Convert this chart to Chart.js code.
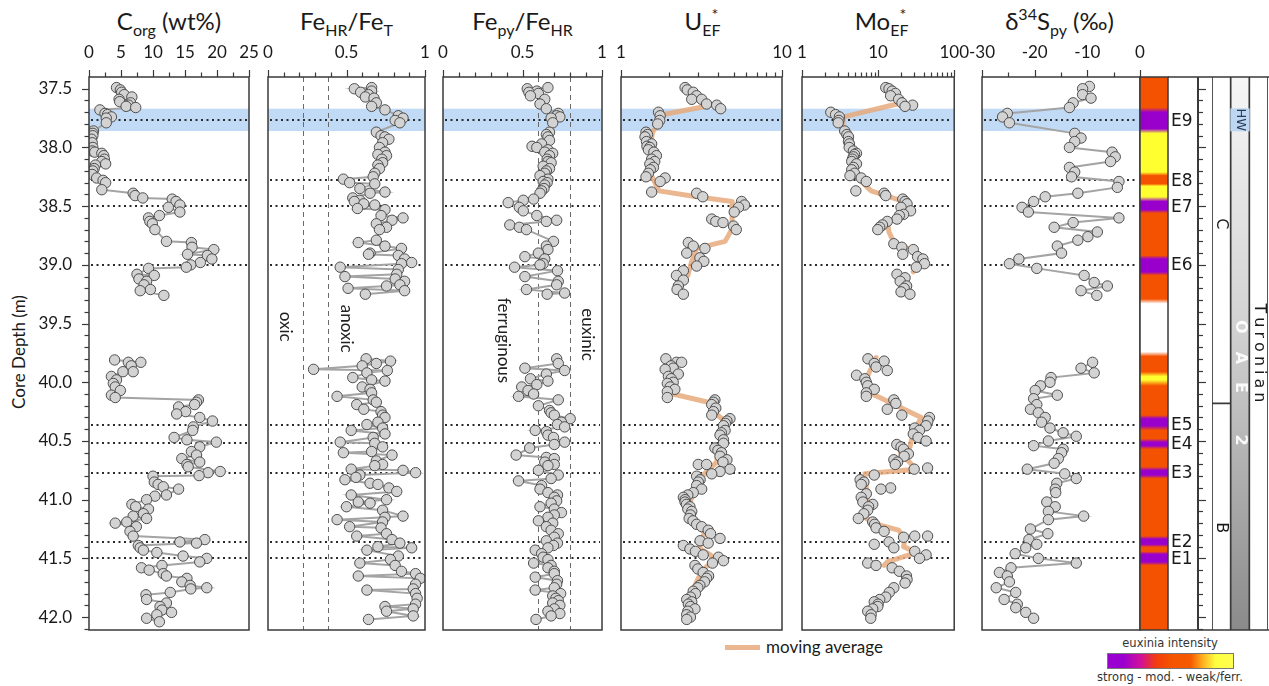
<!DOCTYPE html>
<html>
<head>
<meta charset="utf-8">
<script src="https://cdn.jsdelivr.net/npm/chart.js@4.4.1/dist/chart.umd.min.js"></script>
<style>
  body { margin: 0; background: #fff; }
  #wrap { position: relative; width: 1269px; height: 686px; overflow: hidden; background: #fff;
          font-family: Lato, "Open Sans", sans-serif; color: #1a1a1a; }
  #wrap canvas { position: absolute; top: 0; }
  .ttl { position: absolute; top: 6px; font-size: 24px; text-align: center; white-space: nowrap; line-height: 30px; }
  .ttl sub { font-size: 16px; vertical-align: -6px; line-height: 0; }
  .ttl sup { font-size: 16px; vertical-align: 10px; line-height: 0; }
  .ttl sup.st { margin-left: -9px; }
  .ylab { position: absolute; left: 18px; top: 352px; transform: translate(-50%, -50%) rotate(-90deg);
          font-size: 17px; white-space: nowrap; }
  .leg { position: absolute; white-space: nowrap; }
  .sleg { position: absolute; font-family: "DejaVu Sans", Verdana, sans-serif; font-size: 11.5px; color: #333;
          white-space: nowrap; transform: translateX(-50%); }
</style>
</head>
<body>
<div id="wrap">
  <div class="ttl" style="left:89px;width:160px">C<sub>org</sub> (wt%)</div>
  <div class="ttl" style="left:268px;width:157px">Fe<sub>HR</sub>/Fe<sub>T</sub></div>
  <div class="ttl" style="left:443px;width:159px">Fe<sub>py</sub>/Fe<sub>HR</sub></div>
  <div class="ttl" style="left:621px;width:161px">U<sub>EF</sub><sup class="st">*</sup></div>
  <div class="ttl" style="left:802px;width:157px">Mo<sub>EF</sub><sup class="st">*</sup></div>
  <div class="ttl" style="left:979px;width:161px">δ<sup>34</sup>S<sub>py</sub> (‰)</div>
  <div class="ylab">Core Depth (m)</div>
  <div class="leg" style="left:725px;top:645px;width:35px;height:5px;background:rgba(231,170,125,0.85)"></div>
  <div class="leg" style="left:766px;top:636px;font-size:17px;line-height:22px">moving average</div>
  <div class="sleg" style="left:1170px;top:636px">euxinia intensity</div>
  <div class="leg" style="left:1107px;top:653px;width:125px;height:14px;border:1px solid #777;
       background:linear-gradient(to right,#9a00d0 0%,#9a00d0 12%,#d0109a 26%,#f23a10 38%,#f55200 50%,#f55a00 66%,#ffb020 76%,#ffff40 86%,#ffff50 100%)"></div>
  <div class="sleg" style="left:1170px;top:670px">strong - mod. - weak/ferr.</div>
</div>
<script>
// ---------------- data ----------------
const depthTicks = [37.5, 38.0, 38.5, 39.0, 39.5, 40.0, 40.5, 41.0, 41.5, 42.0];
const corgTicks = [0, 5, 10, 15, 20, 25];
const fehrTicks = [0, 0.5, 1];
const fepyTicks = [0, 0.5, 1];
const uTicks = [1, 10];
const moTicks = [1, 10, 100];
const s34Ticks = [-30, -20, -10, 0];

const eventNames = ['E1', 'E2', 'E3', 'E4', 'E5', 'E6', 'E7', 'E8', 'E9'];
const eventDepths = [41.50, 41.36, 40.77, 40.52, 40.36, 39.00, 38.50, 38.28, 37.77];
const hwBand = [37.67, 37.86];
const fehrThresholds = [0.22, 0.38];
const fepyThresholds = [0.6, 0.8];

const corgDepth = [
  37.49,37.51,37.53,37.55,37.57,37.59,37.61,37.62,37.64,37.65,
  37.66,37.68,37.71,37.72,37.74,37.75,37.79,37.86,37.88,37.90,
  37.93,37.96,38.00,38.03,38.04,38.05,38.07,38.10,38.12,38.14,
  38.15,38.18,38.20,38.23,38.26,38.28,38.30,38.36,38.39,38.41,
  38.43,38.44,38.46,38.49,38.51,38.55,38.58,38.60,38.63,38.65,
  38.70,38.81,38.80,38.85,38.87,38.91,38.92,38.95,38.98,39.00,
  39.02,39.03,39.08,39.09,39.12,39.14,39.17,39.21,39.22,39.26,
  39.50,
  39.81,39.83,39.83,39.86,39.91,39.91,39.95,39.98,40.01,40.04,
  40.07,40.11,40.13,40.15,40.17,40.19,40.21,40.25,40.27,40.30,
  40.33,40.38,40.41,40.47,40.49,40.51,40.55,40.59,40.62,40.65,
  40.68,40.70,40.72,40.76,40.77,40.795,40.80,40.85,40.87,40.89,
  40.91,40.96,40.97,41.00,41.04,41.06,41.08,41.12,41.14,41.16,
  41.19,41.20,41.23,41.27,41.31,41.34,41.36,41.37,41.39,41.41,
  41.43,41.45,41.48,41.50,41.53,41.56,41.58,41.60,41.63,41.65,
  41.67,41.70,41.73,41.75,41.76,41.79,41.81,41.85,41.88,41.91,
  41.94,41.96,41.98,42.01,42.04
];
const corgValue = [
  4.3,4.9,5.1,5.5,6.7,4.7,4.8,6.5,6.2,5.8,
  7.3,1.7,2.5,2.9,3.5,2.7,2.7,0.7,0.6,0.6,
  0.4,0.5,0.6,0.5,0.9,2.0,2.3,2.4,2.0,2.6,
  1.0,0.8,0.6,0.5,1.2,2.2,2.6,2.0,6.9,7.2,
  8.4,13.0,13.6,14.2,12.4,14.2,11.0,9.3,9.5,9.9,
  10.3,16.0,12.1,16.1,19.5,15.4,18.5,19.2,17.4,15.9,
  15.2,9.3,7.5,10.2,7.8,9.0,8.6,9.6,8.0,11.7,
  null,
  4.0,8.1,6.15,6.6,6.9,5.3,3.5,4.3,3.8,4.1,
  4.9,3.5,4.1,17.1,16.8,16.5,14.0,15.1,13.7,17.3,
  19.3,16.3,16.2,13.3,15.3,19.9,17.3,16.0,16.8,14.5,
  17.3,15.3,15.5,20.5,18.6,17.2,10.0,10.2,10.8,11.6,
  14.0,12.1,10.3,9.0,6.7,7.3,9.3,8.5,6.9,9.0,
  5.9,4.1,7.4,6.4,6.9,18.1,14.2,16.8,7.7,8.0,
  8.5,10.6,14.7,18.4,17.3,11.4,8.2,9.4,11.6,12.1,
  15.3,14.5,15.8,18.4,15.9,12.7,8.9,9.0,12.1,11.1,
  11.4,12.9,10.6,9.0,11.0
];

const fehrDepth = [
  37.49,37.50,37.52,37.53,37.55,37.57,37.58,37.62,37.65,37.68,
  37.73,37.75,37.77,37.79,37.87,37.90,37.91,37.93,37.96,38.00,
  38.04,38.06,38.07,38.10,38.13,38.15,38.18,38.22,38.25,38.27,
  38.30,38.31,38.35,38.38,38.39,38.43,38.45,38.46,38.48,38.49,
  38.52,38.53,38.58,38.60,38.62,38.65,38.68,38.70,38.79,38.81,
  38.84,38.86,38.90,38.91,38.92,38.95,38.98,38.99,39.02,39.04,
  39.08,39.10,39.12,39.14,39.17,39.18,39.20,39.22,39.25,
  39.50,
  39.80,39.82,39.84,39.86,39.89,39.90,39.92,39.96,39.98,39.99,
  40.04,40.06,40.09,40.12,40.15,40.17,40.19,40.23,40.25,40.28,
  40.30,40.34,40.36,40.39,40.41,40.44,40.47,40.51,40.52,40.55,
  40.59,40.60,40.62,40.67,40.70,40.71,40.74,40.75,40.77,40.79,
  40.81,40.83,40.86,40.87,40.90,40.93,40.96,41.00,41.02,41.03,
  41.06,41.09,41.14,41.15,41.17,41.19,41.23,41.24,41.29,41.31,
  41.34,41.37,41.40,41.41,41.43,41.48,41.51,41.54,41.56,41.61,
  41.63,41.65,41.67,41.72,41.76,41.77,41.80,41.84,41.89,41.91,
  41.93,41.95,41.99,42.02
];
const fehrValue = [
  0.66,0.55,0.66,0.59,0.64,0.62,0.675,0.69,0.66,0.745,
  0.83,0.86,0.81,0.84,0.69,0.72,0.745,0.77,0.73,0.71,
  0.745,0.70,0.755,0.725,0.73,0.70,0.71,0.68,0.67,0.48,
  0.52,0.68,0.585,0.745,0.65,0.54,0.585,0.55,0.61,0.68,
  0.57,0.745,0.72,0.86,0.79,0.69,0.755,0.71,0.69,0.575,
  0.745,0.85,0.65,0.64,0.83,0.87,0.915,0.85,0.46,0.83,
  0.82,0.49,0.81,0.87,0.84,0.755,0.51,0.87,0.62,
  null,
  0.625,0.78,0.69,0.60,0.29,0.76,0.63,0.54,0.66,0.745,
  0.60,0.65,0.66,0.44,0.67,0.69,0.565,0.61,0.72,0.73,
  0.745,0.70,0.63,0.73,0.53,0.745,0.67,0.46,0.68,0.73,
  0.66,0.48,0.79,0.69,0.73,0.68,0.53,0.86,0.94,0.585,
  0.56,0.49,0.65,0.70,0.77,0.82,0.53,0.755,0.575,0.65,
  0.50,0.73,0.86,0.745,0.44,0.73,0.52,0.72,0.755,0.565,
  0.79,0.84,0.70,0.915,0.63,0.83,0.78,0.585,0.81,0.85,
  0.94,0.575,0.97,0.94,0.925,0.63,0.94,0.95,0.94,0.745,
  0.925,0.755,0.925,0.64
];

const fepyDepth = [
  37.49,37.50,37.52,37.53,37.54,37.56,37.59,37.63,37.67,37.71,
  37.73,37.74,37.75,37.79,37.87,37.91,37.94,37.99,38.00,38.04,
  38.07,38.10,38.13,38.16,38.20,38.24,38.29,38.30,38.35,38.39,
  38.44,38.45,38.47,38.51,38.54,38.58,38.62,38.63,38.66,38.68,
  38.70,38.80,38.84,38.87,38.90,38.93,38.95,38.99,39.00,39.02,
  39.05,39.10,39.14,39.17,39.21,39.24,39.25,
  37.89,37.97,38.02,38.05,38.12,38.18,38.22,38.27,38.32,38.37,
  39.50,
  39.80,39.84,39.88,39.90,39.93,39.97,39.99,40.02,40.04,40.07,
  40.10,40.12,40.15,40.20,40.24,40.28,40.31,40.34,40.38,40.41,
  40.42,40.47,40.51,40.56,40.62,40.64,40.65,40.68,40.71,40.75,
  40.79,40.84,40.88,40.91,40.94,40.98,41.01,41.06,41.11,41.15,
  41.18,41.23,41.29,41.35,41.39,41.43,41.49,41.54,41.58,41.63,
  41.66,41.72,41.77,41.82,41.86,41.90,41.95,41.97,42.02,
  40.26,40.36,40.45,40.53,40.70,40.82,40.96,41.03,41.08,41.13,
  41.20,41.26,41.32,41.37,41.41,41.46,41.51,41.56,41.61,41.69,
  41.75,41.80,41.84,41.88,41.93,41.99
];
const fepyValue = [
  0.66,0.53,0.59,0.54,0.60,0.55,0.64,0.61,0.65,0.725,
  0.715,0.735,0.68,0.69,0.67,0.66,0.67,0.56,0.59,0.64,
  0.67,0.655,0.68,0.63,0.65,0.61,0.63,0.655,0.635,0.61,
  0.57,0.505,0.41,0.48,0.505,0.59,0.715,0.65,0.42,0.48,
  0.525,0.695,0.65,0.66,0.60,0.515,0.64,0.63,0.61,0.45,
  0.72,0.515,0.725,0.715,0.525,0.765,0.655,
  0.65,0.62,0.66,0.69,0.66,0.67,0.64,0.66,0.64,0.62,
  null,
  0.715,0.725,0.515,0.765,0.65,0.55,0.66,0.59,0.495,0.535,
  0.57,0.475,0.725,0.60,0.67,0.70,0.80,0.745,0.765,0.58,
  0.65,0.695,0.765,0.545,0.46,0.65,0.70,0.64,0.66,0.60,
  0.725,0.475,0.62,0.61,0.66,0.70,0.715,0.61,0.745,0.66,
  0.60,0.65,0.725,0.65,0.695,0.58,0.63,0.57,0.66,0.70,
  0.58,0.715,0.58,0.69,0.725,0.735,0.66,0.735,0.585,
  0.68,0.72,0.66,0.70,0.70,0.68,0.72,0.68,0.70,0.70,
  0.69,0.68,0.70,0.72,0.66,0.62,0.66,0.68,0.70,0.72,
  0.70,0.74,0.71,0.69,0.70,0.68
];

const uDepth = [
  37.49,37.51,37.53,37.56,37.59,37.59,37.63,37.64,37.67,37.70,
  37.73,37.77,37.80,37.87,37.91,37.95,37.97,38.00,38.04,38.07,
  38.10,38.14,38.17,38.22,38.25,38.26,38.29,38.38,38.39,38.42,
  38.46,38.49,38.51,38.55,38.61,38.63,38.64,38.67,38.70,38.81,
  38.84,38.86,38.90,38.94,38.97,39.01,39.05,39.09,39.13,39.18,
  39.21,39.25,37.89,37.99,38.02,38.12,38.19,
  39.80,39.83,39.83,39.89,39.88,39.93,39.95,40.00,40.01,40.06,
  40.08,40.13,40.15,40.19,40.22,40.28,40.31,40.33,40.37,40.41,
  40.45,40.49,40.52,40.56,40.60,40.63,40.66,40.70,40.70,40.74,
  40.76,40.78,40.80,40.85,40.91,40.94,40.98,41.02,41.06,41.10,
  41.16,41.21,41.23,41.26,41.33,41.37,41.39,41.42,41.47,41.49,
  41.52,41.56,41.62,41.67,41.73,41.78,41.85,41.89,41.93,41.98,
  42.02,
  39.86,39.97,40.04,40.17,40.25,40.35,40.43,40.58,40.68,40.83,
  40.88,40.96,41.00,41.04,41.08,41.13,41.18,41.29,41.35,41.44,
  41.54,41.59,41.65,41.70,41.75,41.80,41.83,41.87,41.91,41.95,
  42.00
];
const uValue = [
  2.50,2.58,2.81,2.95,2.75,3.17,3.40,3.93,4.16,1.71,
  1.75,1.74,1.69,1.43,1.41,1.44,1.55,1.51,1.60,1.66,
  1.55,1.51,1.59,1.48,1.43,1.88,1.75,1.55,2.95,3.22,
  5.61,5.85,5.37,5.05,3.66,3.88,4.30,5.00,5.20,2.62,
  2.81,3.32,2.56,3.09,3.27,2.95,2.44,2.21,2.44,2.27,
  2.23,2.44,1.46,1.45,1.48,1.62,1.52,
  1.90,2.21,2.38,1.88,2.11,2.27,1.97,2.11,1.94,2.16,
  1.94,1.94,3.83,3.66,3.88,3.66,4.75,4.55,4.33,4.43,
  4.12,4.33,4.33,3.83,4.21,4.12,4.55,3.02,3.40,4.75,
  4.12,3.66,2.95,3.02,3.17,2.81,2.44,2.50,2.68,2.75,
  2.65,2.95,3.17,3.48,4.12,3.48,2.44,2.68,3.24,4.03,
  4.33,2.88,3.24,3.40,3.09,2.81,2.56,2.62,2.88,2.56,
  2.56,
  2.05,2.05,2.02,3.75,3.75,4.45,4.20,4.00,4.30,3.10,
  2.95,2.60,2.50,2.55,2.60,2.70,2.80,3.60,3.10,2.90,
  3.70,3.00,3.50,3.30,3.00,2.90,2.70,2.75,2.70,2.60,
  2.70
];
const uMaDepth = [37.64,37.72,37.79,37.87,38.00,38.20,38.28,38.37,38.42,38.46,38.60,38.70,38.80,38.86,38.97,39.09,
  39.50,
  39.83,40.10,40.17,40.27,40.33,40.45,40.60,40.68,40.78,40.85,40.95,41.05,41.16,41.28,41.38,41.42,41.47,41.53,41.60,41.72,41.82];
const uMaValue = [3.66,1.83,1.72,1.57,1.52,1.50,1.60,1.72,2.95,4.90,4.90,4.87,4.43,2.95,2.75,2.60,
  null,
  2.10,2.10,3.48,3.90,4.40,4.30,4.00,3.93,3.30,3.00,2.80,2.65,2.70,3.30,3.10,3.10,3.60,3.70,3.20,2.90,2.65];

const moDepth = [
  37.49,37.50,37.52,37.54,37.56,37.59,37.62,37.65,37.64,37.70,
  37.72,37.74,37.77,37.79,37.86,37.89,37.91,37.95,38.00,38.03,
  38.05,38.08,38.12,38.14,38.17,38.24,38.26,38.29,38.37,38.39,
  38.41,38.44,38.46,38.51,38.54,38.57,38.61,38.63,38.66,38.70,
  38.82,38.85,38.87,38.91,38.95,38.99,39.02,39.08,39.11,39.14,
  39.18,39.23,39.25,
  37.97,38.06,38.10,38.19,38.22,38.48,38.68,38.93,39.20,38.58,
  39.50,
  39.80,39.82,39.84,39.87,39.90,39.94,39.97,40.00,40.03,40.06,
  40.09,40.12,40.15,40.18,40.23,40.28,40.30,40.33,40.37,40.39,
  40.44,40.47,40.50,40.53,40.57,40.61,40.66,40.70,40.74,40.73,
  40.79,40.83,40.87,40.91,40.90,40.98,41.02,41.04,41.09,41.16,
  41.19,41.24,41.32,41.31,41.31,41.36,41.38,41.41,41.44,41.47,
  41.50,41.54,41.56,41.58,41.65,41.71,41.75,41.83,41.87,41.91,
  41.95,41.98,
  40.41,40.55,40.63,40.68,40.85,40.95,41.06,41.12,41.21,41.27,
  41.61,41.68,41.79,41.85,41.89,41.93,42.01
];
const moValue = [
  12.6,13.9,15.3,16.9,14.6,18.6,20.6,22.6,28.4,2.39,
  2.76,3.10,3.05,2.99,3.64,3.89,4.08,4.08,4.17,4.73,
  5.20,4.73,4.50,5.20,4.73,4.27,6.00,7.00,5.10,12.0,
  12.6,21.1,22.6,20.0,26.7,21.6,17.7,13.2,11.4,9.9,
  16.1,20.5,29.0,21.1,38.8,40.7,31.8,17.7,22.6,19.5,
  23.7,20.0,26.2,
  4.2,4.9,4.6,4.5,4.9,24.0,10.5,33.0,22.0,19.0,
  null,
  7.35,12.0,8.9,9.4,13.2,5.2,6.7,7.0,7.3,8.9,
  7.0,7.0,16.1,17.1,13.2,20.5,47.3,45.0,42.7,30.3,
  29.0,33.5,42.7,17.6,21.6,25.0,16.1,16.8,29.8,44.7,
  8.9,5.8,6.0,10.9,14.6,6.0,6.3,8.5,7.3,5.5,
  8.5,9.4,21.6,44.7,30.3,13.9,8.9,16.1,30.3,42.7,
  35.0,7.3,9.4,15.3,23.6,22.6,16.1,12.6,8.9,9.9,
  7.3,8.1,
  35.0,20.0,22.0,18.0,6.5,7.0,7.5,6.5,9.0,12.0,
  19.0,24.0,14.0,10.5,10.0,8.5,8.0
];
const moMaDepth = [37.63,37.74,37.86,38.03,38.20,38.29,38.37,38.45,38.58,38.63,38.72,38.81,38.88,38.99,39.06,
  39.50,
  39.79,39.97,40.08,40.30,40.43,40.55,40.60,40.74,40.78,40.90,41.06,41.16,41.22,41.26,41.33,41.40,41.45,41.53,41.56];
const moMaValue = [17.7,3.53,3.36,4.5,4.97,6.0,8.1,19.6,21.6,13.2,13.9,16.1,28.8,35.1,28.8,
  null,
  9.4,7.0,7.3,36.9,29.0,26.2,19.6,31.8,6.7,7.0,7.3,7.0,10.9,18.6,22.6,21.6,31.8,13.2,12.0];

const s34Depth = [
  37.48,37.50,37.55,37.58,37.62,37.66,37.71,37.74,37.79,37.88,
  37.92,37.95,38.00,38.04,38.08,38.12,38.17,38.21,38.25,38.29,
  38.34,38.39,38.42,38.46,38.51,38.55,38.60,38.64,38.68,38.72,
  38.76,38.79,38.84,38.90,38.95,38.99,39.03,39.09,39.15,39.18,
  39.22,39.26,
  39.50,
  39.83,39.88,39.92,39.96,40.00,40.03,40.07,40.11,40.14,40.19,
  40.23,40.26,40.30,40.34,40.39,40.43,40.46,40.50,40.54,40.57,
  40.60,40.65,40.69,40.74,40.78,40.82,40.86,40.91,40.94,41.02,
  41.06,41.10,41.14,41.17,41.25,41.29,41.34,41.38,41.41,41.46,
  41.50,41.54,41.58,41.62,41.65,41.70,41.75,41.79,41.85,41.89,
  41.92,41.96,42.01
];
const s34Value = [
  -9.6,-10.9,-10.9,-9.3,-12.7,-13.4,-25.2,-26.1,-24.8,-12.4,
  -11.2,-12.4,-13.4,-5.3,-4.7,-5.6,-13.4,-12.4,-13.0,-4.0,
  -4.3,-11.8,-18.0,-20.2,-22.4,-21.2,-4.0,-12.7,-16.3,-8.1,
  -9.9,-11.8,-15.7,-14.9,-23.0,-24.8,-19.6,-10.6,-8.7,-6.2,
  -11.2,-8.2,
  null,
  -9.0,-11.2,-8.7,-16.9,-17.1,-18.9,-19.9,-15.7,-20.2,-19.6,
  -20.8,-19.3,-18.0,-18.7,-17.1,-14.6,-12.1,-17.4,-20.2,-14.6,
  -14.9,-15.5,-16.3,-21.4,-14.3,-12.1,-15.8,-16.1,-16.0,-17.7,
  -16.1,-17.4,-10.7,-17.4,-20.8,-17.5,-21.1,-19.6,-21.7,-23.7,
  -19.3,-12.1,-24.5,-26.7,-25.2,-24.8,-27.3,-23.6,-25.8,-23.3,
  -23.6,-21.7,-20.2
];

// euxinia intensity along the core: 0 none, 1 strong, 2 moderate, 3 weak/ferruginous
const euxDepth = [37.40,37.66,37.70,37.84,37.88,38.21,38.24,38.31,38.33,38.42,38.46,38.53,38.56,38.92,38.95,39.06,39.09,
  39.29,39.33,39.74,39.78,39.91,39.95,39.98,40.03,40.28,40.31,40.37,40.41,40.48,40.51,40.54,40.57,40.72,40.75,40.79,
  40.82,41.31,41.335,41.38,41.405,41.44,41.465,41.53,41.56,42.11];
const euxLevel = [2,2,1,1,3,3,2,2,3,3,1,1,2,2,1,1,2,
  2,0,0,2,2,3,3,2,2,1,1,2,2,1,1,2,2,1,1,
  2,2,1,1,2,2,1,1,2,2];

const zoneNames = ['C', 'B'];
const zoneTops = [37.40, 40.18];
const zoneBases = [40.18, 42.11];
const zoneLabelDepths = [38.65, 41.24];
const oaeRange = [37.40, 42.11];

// ---------------- layout / style ----------------
const DEPTH_MIN = 37.4, DEPTH_MAX = 42.11;
const TOP = 77, BOTTOM = 630, H = 686;
const FONT = 'Lato, "Open Sans", sans-serif';
const SFONT = '"DejaVu Sans", Verdana, sans-serif';
const TXT = '#1a1a1a';
const EUX_COLORS = ['#ffffff', '#9a00cc', '#f45200', '#ffff30'];
Chart.defaults.font.family = FONT;

const wrap = document.getElementById('wrap');
function addCanvas(left, width) {
  const c = document.createElement('canvas');
  c.width = width; c.height = H;
  c.style.left = left + 'px'; c.style.width = width + 'px'; c.style.height = H + 'px';
  wrap.appendChild(c);
  return c;
}
function pts(depths, values) {
  return depths.map((d, i) => ({ x: values[i], y: d })).sort((a, b) => a.y - b.y);
}
function rotText(ctx, text, px, py, font, color, spacing, align) {
  ctx.save();
  ctx.translate(px, py);
  ctx.rotate(Math.PI / 2);
  ctx.font = font; ctx.fillStyle = color; ctx.textBaseline = 'middle';
  if (!spacing) {
    ctx.textAlign = align || 'left';
    ctx.fillText(text, 0, 0);
  } else {
    ctx.textAlign = 'left';
    let cx = 0;
    for (const ch of text) { ctx.fillText(ch, cx, 0); cx += ctx.measureText(ch).width + spacing; }
  }
  ctx.restore();
}

const decoPlugin = {
  id: 'deco',
  beforeDatasetsDraw(chart, args, o) {
    const { ctx, chartArea: a } = chart; const x = chart.scales.x, y = chart.scales.y;
    ctx.save();
    if (o.band) {
      const y0 = y.getPixelForValue(o.band[0]), y1 = y.getPixelForValue(o.band[1]);
      ctx.fillStyle = 'rgba(172,206,242,0.75)';
      ctx.fillRect(a.left, y0, a.right - a.left, y1 - y0);
    }
    ctx.strokeStyle = '#6a6a6a'; ctx.lineWidth = 1; ctx.setLineDash([5, 4]);
    (o.vlines || []).forEach(v => {
      const px = Math.round(x.getPixelForValue(v)) + 0.5;
      ctx.beginPath(); ctx.moveTo(px, a.top); ctx.lineTo(px, a.bottom); ctx.stroke();
    });
    ctx.strokeStyle = '#2a2a2a'; ctx.lineWidth = 2; ctx.setLineDash([2, 3.5]);
    (o.events || []).forEach(d => {
      const py = Math.round(y.getPixelForValue(d));
      ctx.beginPath(); ctx.moveTo(a.left + 2, py); ctx.lineTo(a.right - 2, py); ctx.stroke();
    });
    ctx.restore();
  },
  afterDatasetsDraw(chart, args, o) {
    const { ctx, chartArea: a } = chart; const x = chart.scales.x, y = chart.scales.y;
    ctx.save();
    ctx.setLineDash([]);
    ctx.strokeStyle = '#3a3a3a'; ctx.lineWidth = 1.5;
    ctx.strokeRect(a.left, a.top, a.right - a.left, a.bottom - a.top);
    ctx.lineWidth = 1.2;
    const xt = (v, len) => {
      const px = Math.round(x.getPixelForValue(v)) + 0.5;
      ctx.beginPath(); ctx.moveTo(px, a.top); ctx.lineTo(px, a.top - len); ctx.stroke();
    };
    (o.xMajor || []).forEach(v => xt(v, 7));
    (o.xMinor || []).forEach(v => xt(v, 4.5));
    if (o.yTicks) {
      for (let k = 0; k <= 46; k++) {
        const d = 37.5 + k * 0.1; if (d > DEPTH_MAX) break;
        const py = Math.round(y.getPixelForValue(d)) + 0.5; const len = (k % 5 === 0) ? 7 : 4.5;
        ctx.beginPath(); ctx.moveTo(a.left, py); ctx.lineTo(a.left - len, py); ctx.stroke();
      }
    }
    (o.vtexts || []).forEach(t => rotText(ctx, t[0], x.getPixelForValue(t[1]), y.getPixelForValue(t[2]), '17px ' + FONT, '#222'));
    ctx.restore();
  }
};

function ptsDS(data, line) {
  return { data, showLine: line, borderColor: '#a4a4a4', borderWidth: 2, pointRadius: 5.2,
           pointBackgroundColor: '#d3d3d3', pointBorderColor: '#4e4e4e', pointBorderWidth: 1, spanGaps: false };
}
function maDS(data) {
  return { data, showLine: true, borderColor: 'rgba(231,170,125,0.85)', borderWidth: 5, pointRadius: 0,
           spanGaps: false, borderCapStyle: 'round', borderJoinStyle: 'round' };
}

function makePanel(l, r, xScale, tickVals, labelFn, datasets, deco, showY) {
  const padL = showY ? 0 : 24, padR = 24;
  const cl = showY ? 0 : l - padL;
  const cw = r + padR - cl;
  const cv = addCanvas(cl, cw);
  const xAxis = Object.assign({
    position: 'top',
    afterBuildTicks: s => { s.ticks = tickVals.map(v => ({ value: v })); },
    afterFit: s => { s.height = TOP; },
    grid: { display: false, drawTicks: false }, border: { display: false },
    ticks: { font: { family: FONT, size: 17 }, color: TXT, padding: 14, maxRotation: 0, autoSkip: false,
             callback: v => labelFn(v) }
  }, xScale);
  const yAxis = {
    type: 'linear', reverse: true, min: DEPTH_MIN, max: DEPTH_MAX, display: !!showY, position: 'left',
    afterBuildTicks: s => { s.ticks = depthTicks.map(v => ({ value: v })); },
    afterFit: s => { s.width = showY ? l : 0; },
    grid: { display: false, drawTicks: false }, border: { display: false },
    ticks: { font: { family: FONT, size: 17 }, color: TXT, padding: 17, autoSkip: false, callback: v => v.toFixed(1) }
  };
  return new Chart(cv, {
    type: 'scatter',
    data: { datasets },
    options: {
      responsive: false, animation: false, devicePixelRatio: 1, events: [],
      layout: { padding: { left: padL, right: padR, top: 0, bottom: H - BOTTOM } },
      scales: { x: xAxis, y: yAxis },
      plugins: { legend: { display: false }, tooltip: { enabled: false }, deco }
    },
    plugins: [decoPlugin]
  });
}

const linMinor = (a, b, step, majors) => { const out = []; for (let v = a; v <= b + 1e-9; v += step) { const r = Math.round(v * 1000) / 1000; if (!majors.some(m => Math.abs(m - r) < 1e-9)) out.push(r); } return out; };
const logMinor = (decades) => { const out = []; for (let d = 0; d < decades; d++) for (let k = 2; k <= 9; k++) out.push(k * Math.pow(10, d)); return out; };
const numLabel = v => String(v);

// Panel 1: Corg
makePanel(89, 249, { type: 'linear', min: 0, max: 25 }, corgTicks, numLabel,
  [ptsDS(pts(corgDepth, corgValue), true)],
  { band: hwBand, events: eventDepths, xMajor: corgTicks, xMinor: linMinor(0, 25, 2.5, corgTicks), yTicks: true }, true);
// Panel 2: FeHR/FeT
makePanel(268, 425, { type: 'linear', min: 0, max: 1 }, fehrTicks, numLabel,
  [ptsDS(pts(fehrDepth, fehrValue), true)],
  { band: hwBand, events: eventDepths, vlines: fehrThresholds, xMajor: fehrTicks, xMinor: linMinor(0, 1, 0.1, fehrTicks),
    vtexts: [['oxic', 0.11, 39.40], ['anoxic', 0.50, 39.34]] }, false);
// Panel 3: Fepy/FeHR
makePanel(443, 602, { type: 'linear', min: 0, max: 1 }, fepyTicks, numLabel,
  [ptsDS(pts(fepyDepth, fepyValue), true)],
  { band: hwBand, events: eventDepths, vlines: fepyThresholds, xMajor: fepyTicks, xMinor: linMinor(0, 1, 0.1, fepyTicks),
    vtexts: [['ferruginous', 0.38, 39.28], ['euxinic', 0.91, 39.37]] }, false);
// Panel 4: U EF
makePanel(621, 782, { type: 'logarithmic', min: 1, max: 10 }, uTicks, numLabel,
  [ptsDS(pts(uDepth, uValue), false), maDS(pts(uMaDepth, uMaValue))],
  { band: hwBand, events: eventDepths, xMajor: uTicks, xMinor: logMinor(1) }, false);
// Panel 5: Mo EF
makePanel(802, 959, { type: 'logarithmic', min: 1, max: 100 }, moTicks, numLabel,
  [ptsDS(pts(moDepth, moValue), false), maDS(pts(moMaDepth, moMaValue))],
  { band: hwBand, events: eventDepths, xMajor: moTicks, xMinor: logMinor(2) }, false);
// Panel 6: d34S
makePanel(979, 1140, { type: 'linear', min: -30, max: 0 }, s34Ticks, numLabel,
  [ptsDS(pts(s34Depth, s34Value), true)],
  { band: hwBand, events: eventDepths, xMajor: s34Ticks, xMinor: linMinor(-30, 0, 5, s34Ticks) }, false);

// ---------------- euxinia strip + event labels ----------------
function euxGradient(context) {
  const chart = context.chart; const a = chart.chartArea;
  if (!a) return EUX_COLORS[2];
  const y = chart.scales.y;
  const y0 = y.getPixelForValue(DEPTH_MIN), y1 = y.getPixelForValue(DEPTH_MAX);
  const g = chart.ctx.createLinearGradient(0, y0, 0, y1);
  euxDepth.forEach((d, i) => {
    const f = Math.min(1, Math.max(0, (y.getPixelForValue(d) - y0) / (y1 - y0)));
    g.addColorStop(f, EUX_COLORS[euxLevel[i]]);
  });
  return g;
}
const sidePlugin = {
  id: 'side',
  afterDatasetsDraw(chart) {
    const { ctx, chartArea: a } = chart; const y = chart.scales.y;
    const colR = a.right + 30, farR = 1268;
    ctx.save();
    ctx.strokeStyle = '#3a3a3a'; ctx.lineWidth = 1.5;
    ctx.strokeRect(a.left, a.top, a.right - a.left, a.bottom - a.top);
    ctx.beginPath();
    ctx.moveTo(a.right, a.top); ctx.lineTo(farR, a.top);
    ctx.moveTo(a.right, a.bottom); ctx.lineTo(farR, a.bottom);
    ctx.stroke();
    ctx.lineWidth = 2;
    ctx.beginPath(); ctx.moveTo(colR, a.top); ctx.lineTo(colR, a.bottom); ctx.stroke();
    ctx.lineWidth = 1.2;
    for (let k = 0; k <= 46; k++) {
      const d = 37.5 + k * 0.1; if (d > DEPTH_MAX) break;
      const py = Math.round(y.getPixelForValue(d)) + 0.5; const len = (k % 5 === 0) ? 8 : 5;
      ctx.beginPath(); ctx.moveTo(colR, py); ctx.lineTo(colR + len, py); ctx.stroke();
    }
    ctx.font = '17px ' + SFONT; ctx.fillStyle = TXT; ctx.textAlign = 'left'; ctx.textBaseline = 'middle';
    eventNames.forEach((n, i) => ctx.fillText(n, a.right + 3, y.getPixelForValue(eventDepths[i]) + 1));
    ctx.restore();
  }
};
new Chart(addCanvas(1130, 139), {
  type: 'bar',
  data: { labels: ['euxinia'], datasets: [{ data: [[DEPTH_MIN, DEPTH_MAX]], backgroundColor: euxGradient,
          borderWidth: 0, barPercentage: 1, categoryPercentage: 1 }] },
  options: {
    responsive: false, animation: false, devicePixelRatio: 1, events: [],
    layout: { padding: { left: 10, right: 101, top: TOP, bottom: H - BOTTOM } },
    scales: { x: { display: false }, y: { type: 'linear', reverse: true, min: DEPTH_MIN, max: DEPTH_MAX, display: false } },
    plugins: { legend: { display: false }, tooltip: { enabled: false } }
  },
  plugins: [sidePlugin]
});

// ---------------- zone / OAE / stage columns ----------------
function oaeGradient(context) {
  const chart = context.chart; const a = chart.chartArea;
  if (!a) return '#cccccc';
  const y = chart.scales.y;
  const g = chart.ctx.createLinearGradient(0, y.getPixelForValue(oaeRange[0]), 0, y.getPixelForValue(oaeRange[1]));
  g.addColorStop(0, '#f6f6f6'); g.addColorStop(0.45, '#d2d2d2'); g.addColorStop(1, '#8a8a8a');
  return g;
}
const zonePlugin = {
  id: 'zonetext',
  afterDatasetsDraw(chart) {
    const { ctx } = chart; const x = chart.scales.x, y = chart.scales.y;
    zoneNames.forEach((n, i) => rotText(ctx, n, x.getPixelForValue(0), y.getPixelForValue(zoneLabelDepths[i]),
      '16px ' + SFONT, TXT, 0, 'center'));
    rotText(ctx, 'HW', x.getPixelForValue(1), y.getPixelForValue((hwBand[0] + hwBand[1]) / 2), '13px ' + SFONT, '#2a3a55', 0, 'center');
    rotText(ctx, 'OAE 2', x.getPixelForValue(1), y.getPixelForValue(39.47), 'bold 16px ' + SFONT, 'rgba(255,255,255,0.9)', 18);
    rotText(ctx, 'Turonian', x.getPixelForValue(2), y.getPixelForValue(39.33), '16px ' + SFONT, TXT, 4);
  }
};
new Chart(addCanvas(1198, 71), {
  type: 'bar',
  data: {
    labels: ['zone', 'oae', 'stage'],
    datasets: [
      { data: [null, hwBand, null], backgroundColor: '#bdd7f3', borderWidth: 0 },
      { data: [[zoneTops[0], zoneBases[0]], null, null], backgroundColor: '#ffffff', borderColor: '#3a3a3a', borderWidth: 1.2 },
      { data: [[zoneTops[1], zoneBases[1]], null, null], backgroundColor: '#ffffff', borderColor: '#3a3a3a', borderWidth: 1.2 },
      { data: [null, oaeRange, null], backgroundColor: oaeGradient, borderColor: '#3a3a3a', borderWidth: 1.2 },
      { data: [null, null, [DEPTH_MIN, DEPTH_MAX]], backgroundColor: '#ffffff', borderColor: '#3a3a3a', borderWidth: 1.2 }
    ]
  },
  options: {
    responsive: false, animation: false, devicePixelRatio: 1, events: [],
    datasets: { bar: { grouped: false, barPercentage: 1, categoryPercentage: 1, borderSkipped: false } },
    layout: { padding: { left: 14, right: 1, top: TOP, bottom: H - BOTTOM } },
    scales: { x: { display: false }, y: { type: 'linear', reverse: true, min: DEPTH_MIN, max: DEPTH_MAX, display: false } },
    plugins: { legend: { display: false }, tooltip: { enabled: false } }
  },
  plugins: [zonePlugin]
});
</script>
</body>
</html>
